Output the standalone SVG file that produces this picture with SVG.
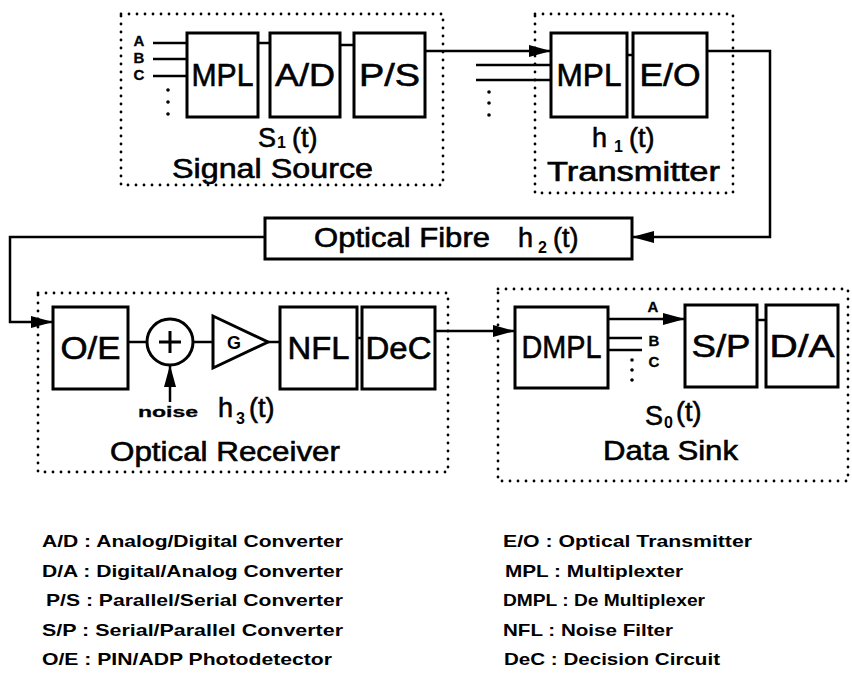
<svg xmlns="http://www.w3.org/2000/svg" width="852" height="675" viewBox="0 0 852 675">
<defs>
<style>
.box{fill:none;stroke:#000;stroke-width:3}
.grp{fill:none;stroke:#000;stroke-width:2.8;stroke-dasharray:0 8;stroke-linecap:round}
.ln{fill:none;stroke:#000;stroke-width:2.5}
.t{font-family:"Liberation Sans",Arial,sans-serif;fill:#000}
.lbl{font-size:31px;text-anchor:middle;stroke:#000;stroke-width:0.6}
.ttl{font-size:27px;stroke:#000;stroke-width:0.6}
.sub{font-size:16px;font-weight:bold}
.sm{font-size:15px;font-weight:bold;stroke:#000;stroke-width:0.3}
.lg{font-size:17px;font-weight:bold}
</style>
<marker id="ah" markerUnits="userSpaceOnUse" markerWidth="24" markerHeight="14" refX="22" refY="6" orient="auto"><path d="M0,0 L22,6 L0,12 z" fill="#000"/></marker>
</defs>
<rect width="852" height="675" fill="#fff"/>

<g id="signal-source">
<rect class="grp" x="121" y="14" width="322" height="171"/>
<rect class="box" x="187" y="33" width="71" height="84"/>
<text class="t lbl" x="222.5" y="86" textLength="62" lengthAdjust="spacingAndGlyphs">MPL</text>
<rect class="box" x="270" y="33" width="70" height="84"/>
<text class="t lbl" x="305" y="86" textLength="60" lengthAdjust="spacingAndGlyphs">A/D</text>
<rect class="box" x="354" y="33" width="71" height="84"/>
<text class="t lbl" x="389.5" y="86" textLength="61" lengthAdjust="spacingAndGlyphs">P/S</text>
<text class="t sm" x="139" y="46" text-anchor="middle">A</text>
<text class="t sm" x="139" y="63" text-anchor="middle">B</text>
<text class="t sm" x="139" y="80" text-anchor="middle">C</text>
<text class="t ttl" x="258" y="147">S</text>
<text class="t sub" x="277" y="148">1</text>
<text class="t ttl" x="292" y="147">(t)</text>
<text class="t ttl" x="172" y="178" textLength="201" lengthAdjust="spacingAndGlyphs">Signal  Source</text>
</g>

<g id="transmitter">
<rect class="grp" x="535" y="14" width="198" height="179"/>
<rect class="box" x="551" y="33" width="76" height="84"/>
<text class="t lbl" x="589" y="86" textLength="65" lengthAdjust="spacingAndGlyphs">MPL</text>
<rect class="box" x="633" y="33" width="74" height="84"/>
<text class="t lbl" x="670" y="86" textLength="61" lengthAdjust="spacingAndGlyphs">E/O</text>
<text class="t ttl" x="592" y="147">h</text>
<text class="t sub" x="614" y="152">1</text>
<text class="t ttl" x="629" y="147">(t)</text>
<text class="t ttl" x="547" y="181" textLength="173" lengthAdjust="spacingAndGlyphs">Transmitter</text>
</g>

<g id="optical-fibre">
<rect class="box" x="265" y="218" width="367" height="41"/>
<text class="t ttl" x="314" y="247" textLength="176" lengthAdjust="spacingAndGlyphs">Optical Fibre</text>
<text class="t ttl" x="518" y="247">h</text>
<text class="t sub" x="538" y="253">2</text>
<text class="t ttl" x="553" y="247">(t)</text>
</g>

<g id="optical-receiver">
<rect class="grp" x="38" y="293" width="410" height="179"/>
<rect class="box" x="53" y="307" width="75" height="82"/>
<text class="t lbl" x="90.5" y="359" textLength="60" lengthAdjust="spacingAndGlyphs">O/E</text>
<circle class="box" cx="170" cy="342" r="23"/>
<path class="box" d="M170,331 V353 M159,342 H181"/>
<polygon class="box" points="213,316 213,368 268,342"/>
<text class="t" x="227" y="349" font-size="18" font-weight="bold">G</text>
<rect class="box" x="280" y="307" width="77" height="82"/>
<text class="t lbl" x="318.5" y="359" textLength="62" lengthAdjust="spacingAndGlyphs">NFL</text>
<rect class="box" x="362" y="307" width="73" height="82"/>
<text class="t lbl" x="398.5" y="359" textLength="66" lengthAdjust="spacingAndGlyphs">DeC</text>
<text class="t sm" x="138" y="417" textLength="60" lengthAdjust="spacingAndGlyphs" font-size="17">noise</text>
<text class="t ttl" x="218" y="417">h</text>
<text class="t sub" x="236" y="424">3</text>
<text class="t ttl" x="249" y="417">(t)</text>
<text class="t ttl" x="110" y="461" textLength="230" lengthAdjust="spacingAndGlyphs">Optical Receiver</text>
</g>

<g id="data-sink">
<rect class="grp" x="498" y="289" width="350" height="192"/>
<rect class="box" x="515" y="307" width="93" height="81"/>
<text class="t lbl" x="561.5" y="358" textLength="80" lengthAdjust="spacingAndGlyphs">DMPL</text>
<rect class="box" x="685" y="305" width="72" height="82"/>
<text class="t lbl" x="721" y="357" textLength="59" lengthAdjust="spacingAndGlyphs">S/P</text>
<rect class="box" x="766" y="305" width="72" height="82"/>
<text class="t lbl" x="802" y="357" textLength="65" lengthAdjust="spacingAndGlyphs">D/A</text>
<text class="t sm" x="653" y="312" text-anchor="middle" font-size="17">A</text>
<text class="t sm" x="654" y="346" text-anchor="middle" font-size="17">B</text>
<text class="t sm" x="654" y="367" text-anchor="middle" font-size="17">C</text>
<text class="t ttl" x="645" y="425">S</text>
<text class="t sub" x="664" y="428">0</text>
<text class="t ttl" x="676" y="421">(t)</text>
<text class="t ttl" x="603" y="460" textLength="135" lengthAdjust="spacingAndGlyphs">Data Sink</text>
</g>

<g id="connectors">
<path class="ln" d="M153,43 H187 M153,59 H187 M153,76 H187"/>
<path class="ln" d="M258,43 H270 M340,45 H354"/>
<path class="ln" d="M425,51 H551" marker-end="url(#ah)"/>
<path class="ln" d="M476,65 H551 M476,80 H551"/>
<path class="ln" d="M627,55 H633"/>
<path class="ln" d="M707,51 H770 V237 H632" marker-end="url(#ah)"/>
<path class="ln" d="M265,237 H10 V322 H53" marker-end="url(#ah)"/>
<path class="ln" d="M128,342 H147 M193,342 H213 M268,342 H280"/>
<path class="ln" d="M170,402 V365" marker-end="url(#ah)"/>
<path class="ln" d="M357,338 H362"/>
<path class="ln" d="M435,331 H515" marker-end="url(#ah)"/>
<path class="ln" d="M608,319 H685" marker-end="url(#ah)"/>
<path class="ln" d="M608,338 H642 M608,350 H642"/>
<path class="ln" d="M757,320 H766"/>
<g fill="#000">
<circle cx="168" cy="90" r="1.8"/><circle cx="168" cy="102" r="1.8"/><circle cx="168" cy="114" r="1.8"/>
<circle cx="489" cy="92" r="1.8"/><circle cx="489" cy="103" r="1.8"/><circle cx="489" cy="115" r="1.8"/>
<circle cx="632" cy="360" r="1.8"/><circle cx="632" cy="370" r="1.8"/><circle cx="632" cy="380" r="1.8"/>
</g>
</g>

<g id="legend">
<text class="t lg" x="42" y="547" textLength="301" lengthAdjust="spacingAndGlyphs">A/D : Analog/Digital Converter</text>
<text class="t lg" x="42" y="577" textLength="301" lengthAdjust="spacingAndGlyphs">D/A : Digital/Analog Converter</text>
<text class="t lg" x="46" y="606" textLength="297" lengthAdjust="spacingAndGlyphs">P/S : Parallel/Serial Converter</text>
<text class="t lg" x="42" y="636" textLength="301" lengthAdjust="spacingAndGlyphs">S/P : Serial/Parallel Converter</text>
<text class="t lg" x="42" y="665" textLength="290" lengthAdjust="spacingAndGlyphs">O/E : PIN/ADP Photodetector</text>
<text class="t lg" x="503" y="547" textLength="249" lengthAdjust="spacingAndGlyphs">E/O : Optical Transmitter</text>
<text class="t lg" x="505" y="577" textLength="178" lengthAdjust="spacingAndGlyphs">MPL : Multiplexter</text>
<text class="t lg" x="503" y="606" textLength="202" lengthAdjust="spacingAndGlyphs">DMPL : De Multiplexer</text>
<text class="t lg" x="503" y="636" textLength="170" lengthAdjust="spacingAndGlyphs">NFL : Noise Filter</text>
<text class="t lg" x="504" y="665" textLength="216" lengthAdjust="spacingAndGlyphs">DeC : Decision Circuit</text>
</g>
</svg>
